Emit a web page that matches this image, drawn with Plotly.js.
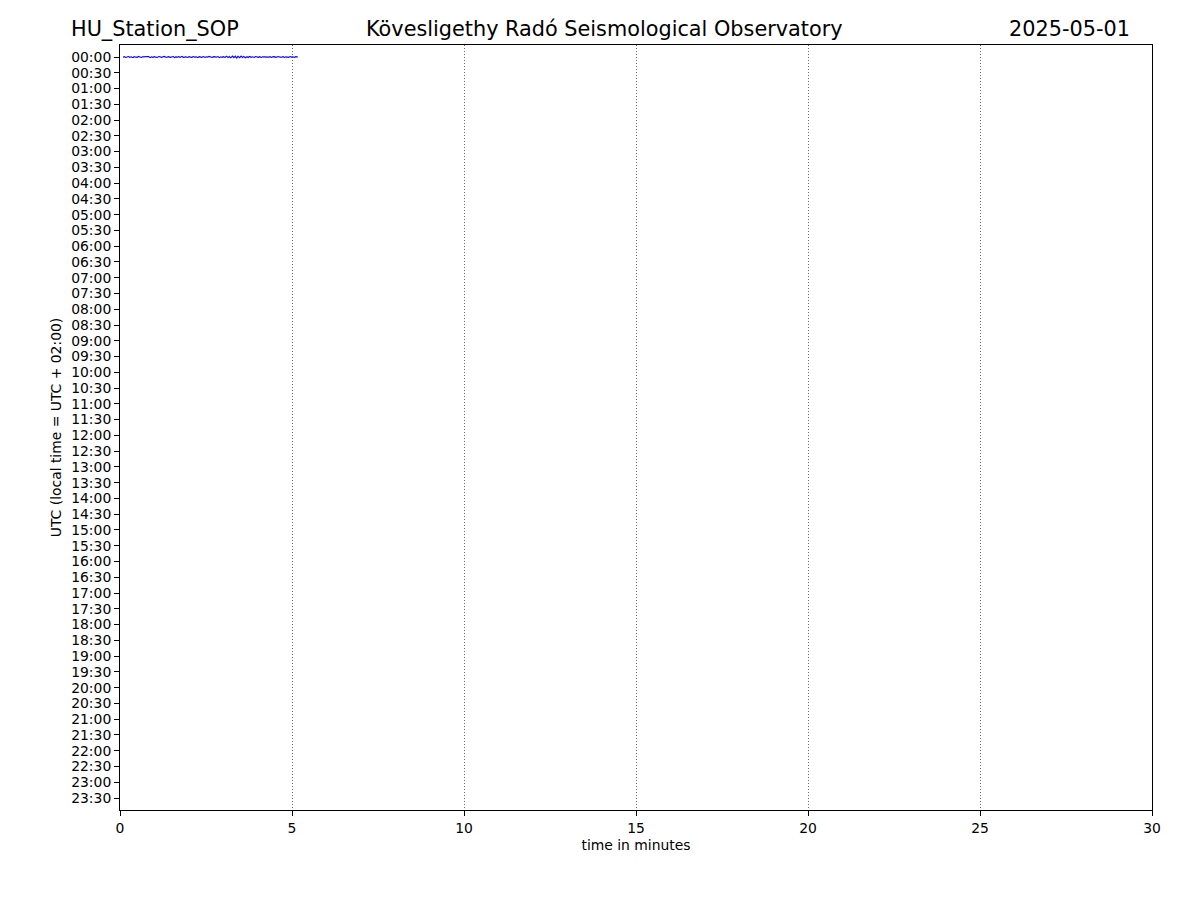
<!DOCTYPE html>
<html>
<head>
<meta charset="utf-8">
<script src="https://cdn.plot.ly/plotly-3.0.1.min.js"></script>
<style>body{margin:0;padding:0;background:#fff}#chart{width:1200px;height:900px}</style>
</head>
<body>
<div id="chart"></div>
<script>
// Row labels (UTC, 30-minute rows)
const rowLabels = ["00:00","00:30","01:00","01:30","02:00","02:30","03:00","03:30","04:00","04:30",
"05:00","05:30","06:00","06:30","07:00","07:30","08:00","08:30","09:00","09:30",
"10:00","10:30","11:00","11:30","12:00","12:30","13:00","13:30","14:00","14:30",
"15:00","15:30","16:00","16:30","17:00","17:30","18:00","18:30","19:00","19:30",
"20:00","20:30","21:00","21:30","22:00","22:30","23:00","23:30"];
const rowIndex = [0,1,2,3,4,5,6,7,8,9,10,11,12,13,14,15,16,17,18,19,20,21,22,23,24,25,26,27,28,29,30,31,32,33,34,35,36,37,38,39,40,41,42,43,44,45,46,47];

// Trace of row 00:00 (time in minutes, normalized amplitude)
const traceMinutes = [0.09,0.12,0.17,0.21,0.24,0.29,0.33,0.38,0.41,0.46,0.50,0.53,0.58,0.62,0.66,0.71,0.74,0.79,0.83,0.88,0.91,0.95,1.00,1.04,1.08,1.13,1.16,1.21,1.25,1.29,1.34,1.38,1.41,1.46,1.50,1.55,1.59,1.62,1.67,1.71,1.75,1.80,1.84,1.88,1.92,1.96,2.01,2.05,2.09,2.13,2.17,2.22,2.26,2.30,2.34,2.38,2.43,2.47,2.51,2.55,2.59,2.64,2.68,2.72,2.76,2.80,2.85,2.89,2.93,2.97,3.01,3.06,3.10,3.14,3.18,3.22,3.27,3.31,3.35,3.39,3.43,3.48,3.52,3.56,3.60,3.64,3.69,3.73,3.77,3.81,3.85,3.90,3.94,3.98,4.02,4.06,4.11,4.15,4.19,4.23,4.27,4.32,4.36,4.40,4.44,4.48,4.53,4.57,4.61,4.65,4.69,4.74,4.78,4.82,4.86,4.90,4.95,4.99,5.03,5.07,5.11,5.15,5.17];
const traceAmplitude = [0.01,-0.02,0.03,0.00,-0.03,0.02,-0.01,0.04,-0.02,0.01,0.02,-0.04,0.01,0.03,-0.01,-0.02,0.02,0.00,-0.03,0.04,-0.01,0.02,-0.02,0.01,0.03,-0.03,0.00,0.02,-0.01,-0.04,0.03,0.01,-0.02,0.02,0.00,-0.03,0.04,-0.01,0.01,-0.02,0.03,-0.04,0.02,0.00,-0.01,0.03,-0.02,0.01,0.02,-0.03,0.01,-0.01,0.04,-0.02,0.00,0.02,-0.03,0.03,-0.01,0.01,-0.04,0.02,0.03,-0.02,0.00,0.01,-0.03,0.04,-0.01,0.02,-0.02,0.03,-0.05,0.04,-0.03,0.05,-0.06,0.04,-0.05,0.07,-0.04,0.05,-0.06,0.03,-0.04,0.05,-0.02,0.03,-0.04,0.02,-0.01,0.03,-0.03,0.01,0.02,-0.02,0.03,-0.01,0.00,-0.03,0.02,0.01,-0.02,0.03,-0.01,-0.02,0.02,0.00,-0.03,0.01,0.02,-0.02,0.03,-0.01,0.00,0.02,-0.03,0.01,-0.01,0.03,-0.02,0.01,0.00];
const traceRow = 0;

const xTicks = [0,5,10,15,20,25,30];

const yVals = traceAmplitude.map(a => traceRow + a);

const font = "DejaVu Sans, sans-serif";
const data = [{
  type: "scatter", mode: "lines",
  x: traceMinutes, y: yVals,
  line: {color: "#0000ff", width: 1.1},
  hoverinfo: "skip"
}];

const layout = {
  width: 1200, height: 900,
  margin: {l: 120, r: 48, t: 45, b: 90, pad: 0},
  paper_bgcolor: "#fff", plot_bgcolor: "#fff",
  showlegend: false,
  font: {family: font, size: 13.9, color: "#000"},
  xaxis: {
    range: [0, 30], tickvals: xTicks, ticktext: xTicks.map(String),
    showline: true, mirror: true, linecolor: "#000", linewidth: 1,
    ticks: "outside", ticklen: 5, tickcolor: "#000", tickwidth: 1,
    showgrid: true, gridcolor: "#444", gridwidth: 0.8, griddash: "1px,2px",
    zeroline: false,
    title: {text: "time in minutes", font: {family: font, size: 13.9}, standoff: 5},
    tickfont: {family: font, size: 13.9}
  },
  yaxis: {
    range: [47.761, -0.761], tickvals: rowIndex, ticktext: rowLabels,
    showline: true, mirror: true, linecolor: "#000", linewidth: 1,
    ticks: "outside", ticklen: 5, tickcolor: "#000", tickwidth: 1,
    showgrid: false, zeroline: false,
    title: {text: "UTC (local time = UTC + 02:00)", font: {family: font, size: 13.9}, standoff: 6},
    tickfont: {family: font, size: 13.9}
  },
  annotations: [
    {text: "HU_Station_SOP", xref: "paper", yref: "paper", x: -0.0495, y: 1.0, xanchor: "left", yanchor: "bottom", yshift: 2, showarrow: false, font: {family: font, size: 20.8}},
    {text: "Kövesligethy Radó Seismological Observatory", xref: "paper", yref: "paper", x: 0.469, y: 1.0, xanchor: "center", yanchor: "bottom", yshift: 2, showarrow: false, font: {family: font, size: 20.8}},
    {text: "2025-05-01", xref: "paper", yref: "paper", x: 0.9806, y: 1.0, xanchor: "right", yanchor: "bottom", yshift: 2, showarrow: false, font: {family: font, size: 20.8}}
  ]
};

Plotly.newPlot("chart", data, layout, {displayModeBar: false, staticPlot: true});
</script>
</body>
</html>
